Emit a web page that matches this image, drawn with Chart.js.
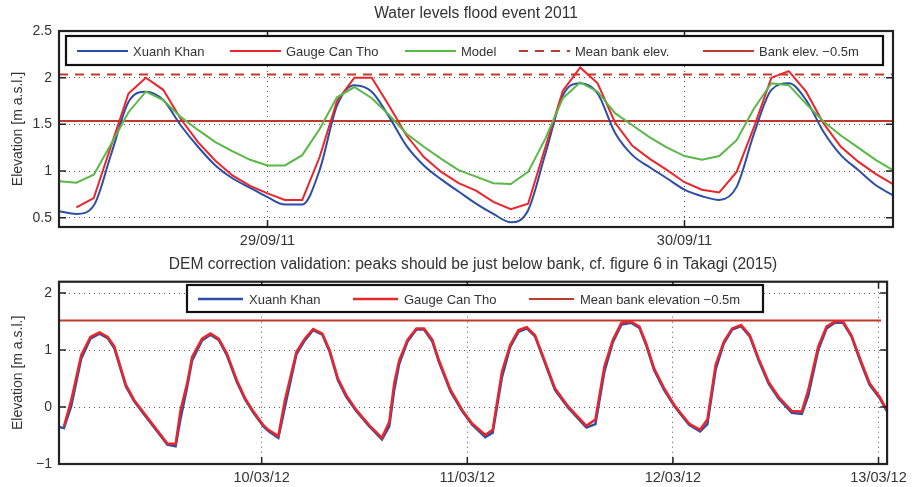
<!DOCTYPE html>
<html>
<head>
<meta charset="utf-8">
<script src="https://cdn.jsdelivr.net/npm/chart.js@4.4.1/dist/chart.umd.min.js"></script>
<style>
  html, body { margin: 0; padding: 0; background: #fff; }
  #wrap { position: relative; width: 912px; height: 487px; }
  #wrap canvas { position: absolute; left: 0; }
  #floodChart { top: 0; }
  #demChart { top: 250px; }
</style>
</head>
<body>
<div id="wrap">
  <canvas id="floodChart" width="912" height="250"></canvas>
  <canvas id="demChart" width="912" height="237"></canvas>
</div>
<script>
/* ── Flood event 2011 (hours since 28/09/11 12:00) ── */
const floodHours = [0,1,2,3,4,5,6,7,8,9,10,11,12,13,14,15,16,17,18,19,20,21,22,23,24,
  25,26,27,28,29,30,31,32,33,34,35,36,37,38,39,40,41,42,43,44,45,46,47,48];
const floodXuanh = [0.57,0.54,0.63,1.18,1.74,1.85,1.76,1.49,1.26,1.06,0.92,0.82,0.72,0.64,0.64,
  1.01,1.70,1.92,1.85,1.58,1.27,1.06,0.91,0.78,0.65,0.54,0.45,0.58,1.19,1.81,1.94,1.83,1.41,
  1.17,1.04,0.92,0.80,0.73,0.69,0.83,1.40,1.87,1.94,1.76,1.42,1.17,1.01,0.85,0.74];
const gaugeHours = [1,2,3,4,5,6,7,8,9,10,11,12,13,14,15,16,17,18,19,20,21,22,23,24,
  25,26,27,28,29,30,31,32,33,34,35,36,37,38,39,40,41,42,43,44,45,46,47,48];
const floodGauge = [0.61,0.71,1.27,1.83,2.00,1.87,1.56,1.31,1.11,0.95,0.84,0.76,0.69,0.69,
  1.15,1.75,2.00,2.00,1.70,1.38,1.15,0.99,0.87,0.79,0.67,0.59,0.65,1.26,1.86,2.11,1.94,1.52,
  1.27,1.13,1.01,0.88,0.80,0.77,0.99,1.47,2.00,2.07,1.85,1.51,1.26,1.10,0.97,0.86];
const floodModel = [0.89,0.875,0.96,1.29,1.63,1.85,1.76,1.58,1.44,1.31,1.21,1.12,1.06,1.06,1.17,
  1.45,1.79,1.90,1.78,1.60,1.40,1.26,1.13,1.01,0.94,0.87,0.86,0.99,1.35,1.78,1.95,1.85,1.62,
  1.49,1.36,1.25,1.16,1.12,1.16,1.33,1.67,1.94,1.92,1.72,1.53,1.38,1.25,1.12,1.01];
const meanBankElev = 2.035;
const bankOffset = 0.5;
const floodRange = [0, 48];
const floodTickHours = [12, 36];
const floodTickLabels = ['29/09/11', '30/09/11'];
const floodYTicks = [0.5, 1, 1.5, 2, 2.5];
const floodYLabels = ['0.5', '1', '1.5', '2', '2.5'];

/* ── DEM validation March 2012 (hours since 09/03/12 00:00) ── */
const valHours = [0.34,0.92,1.77,2.93,4.01,5.06,6.02,6.80,8.15,9.12,10.28,12.99,13.95,14.53,15.30,
  15.88,17.04,18.01,18.98,19.94,21.10,22.07,23.04,24.2,24.78,25.94,26.71,28.06,29.03,30.0,31.08,
  31.93,32.9,33.87,35.03,36.57,38.04,38.89,39.47,40.05,41.02,42.06,42.95,43.92,44.69,46.05,47.4,
  48.56,50.1,50.96,52.04,53.0,53.97,54.94,55.9,56.87,58.23,59.77,61.9,62.95,64.0,64.99,66.0,67.1,
  68.09,68.87,69.8,70.97,72.14,72.92,73.89,75.17,76.02,76.99,77.95,78.92,79.96,80.97,82.01,83.17,
  84.33,85.88,87.04,87.8,88.96,89.93,90.89,91.86,92.83,93.99,94.96,96.12,96.97];
const valXuanh = [-0.35,-0.37,0.02,0.85,1.20,1.29,1.21,1.03,0.36,0.10,-0.13,-0.66,-0.69,-0.20,0.35,
  0.82,1.17,1.27,1.18,0.91,0.44,0.13,-0.10,-0.34,-0.42,-0.54,0.00,0.93,1.17,1.35,1.27,
  0.97,0.47,0.18,-0.07,-0.34,-0.57,-0.34,0.30,0.76,1.15,1.36,1.36,1.15,0.79,0.27,-0.07,
  -0.31,-0.53,-0.45,0.52,1.05,1.32,1.38,1.24,0.85,0.30,-0.01,-0.36,-0.30,0.62,1.14,1.45,1.48,
  1.39,1.09,0.65,0.30,0.02,-0.13,-0.31,-0.43,-0.30,0.66,1.12,1.36,1.42,1.24,0.82,0.41,
  0.15,-0.10,-0.12,0.20,1.00,1.38,1.48,1.48,1.24,0.76,0.39,0.16,-0.07];
const valGauge = [null,-0.34,0.12,0.91,1.23,1.31,1.23,1.06,0.39,0.12,-0.11,-0.64,-0.65,-0.05,0.42,
  0.88,1.20,1.29,1.20,0.94,0.47,0.15,-0.08,-0.32,-0.40,-0.51,0.12,0.97,1.20,1.37,1.29,
  1.00,0.50,0.21,-0.05,-0.32,-0.54,-0.26,0.42,0.82,1.18,1.38,1.38,1.18,0.82,0.30,-0.05,
  -0.29,-0.49,-0.40,0.62,1.09,1.35,1.40,1.26,0.88,0.33,0.01,-0.33,-0.22,0.71,1.18,1.48,1.50,
  1.41,1.12,0.68,0.33,0.04,-0.11,-0.29,-0.40,-0.22,0.74,1.15,1.38,1.44,1.26,0.85,0.44,
  0.18,-0.07,-0.08,0.30,1.06,1.41,1.50,1.50,1.26,0.79,0.42,0.18,-0.05];
const valBankLevel = 1.52;
const valBankHours = [0.34, 96.3];
const valRange = [0.34, 97.0];
const valTickHours = [24, 48, 72, 96];
const valTickLabels = ['10/03/12', '11/03/12', '12/03/12', '13/03/12'];
const valYTicks = [-1, 0, 1, 2];
const valYLabels = ['\u22121', '0', '1', '2'];

const FONT = "'Liberation Sans', Arial, Helvetica, sans-serif";
const INK = '#333';
const BLUE = '#2d4ea6', RED = '#e8262b', GREEN = '#5ab847', BANK = '#bd3b2c';

function pts(xs, ys){ return xs.map((x, i) => ({ x, y: ys[i] })); }

/* ── matlab-like axes box with inward ticks ── */
const axesBox = {
  id: 'axesBox',
  afterDatasetsDraw(chart){
    const { ctx, chartArea: a, scales: { x, y } } = chart;
    ctx.save();
    ctx.strokeStyle = '#222';
    ctx.lineWidth = 1.5;
    ctx.beginPath();
    y.ticks.forEach(t => {
      const py = y.getPixelForValue(t.value);
      ctx.moveTo(a.left, py);  ctx.lineTo(a.left + 7, py);
      ctx.moveTo(a.right, py); ctx.lineTo(a.right - 7, py);
    });
    x.ticks.forEach(t => {
      const px = x.getPixelForValue(t.value);
      ctx.moveTo(px, a.bottom); ctx.lineTo(px, a.bottom - 7);
      ctx.moveTo(px, a.top);    ctx.lineTo(px, a.top + 7);
    });
    ctx.stroke();
    ctx.lineWidth = 2.2;
    ctx.strokeRect(a.left, a.top, a.right - a.left, a.bottom - a.top);
    ctx.restore();
  }
};

/* ── boxed legend sitting inside the axes ── */
const boxLegend = {
  id: 'boxLegend',
  afterDraw(chart, args, o){
    const { ctx } = chart;
    ctx.save();
    ctx.fillStyle = '#fff';
    ctx.fillRect(o.x, o.y, o.w, o.h);
    ctx.lineWidth = 2.2;
    ctx.strokeStyle = '#111';
    ctx.strokeRect(o.x, o.y, o.w, o.h);
    const cy = o.y + o.h / 2 + 0.5;
    ctx.font = `${o.size}px ${FONT}`;
    ctx.textBaseline = 'middle';
    chart.data.datasets.forEach((ds, i) => {
      const lx = o.itemX[i];
      ctx.beginPath();
      ctx.strokeStyle = ds.borderColor;
      ctx.lineWidth = ds.borderWidth;
      ctx.setLineDash(ds.borderDash || []);
      ctx.moveTo(lx, cy);
      ctx.lineTo(lx + o.lineLen, cy);
      ctx.stroke();
      ctx.setLineDash([]);
      ctx.fillStyle = INK;
      ctx.fillText(ds.label, lx + o.textOff, cy + 1);
    });
    ctx.restore();
  }
};

function makeScales(range, tickHours, tickLabels, yRange, yTicks, yLabels, xHeight){
  return {
    x: {
      type: 'linear', min: range[0], max: range[1],
      afterBuildTicks: s => { s.ticks = tickHours.map(v => ({ value: v })); },
      afterFit: s => { s.height = xHeight; },
      ticks: { color: INK, padding: 5, font: { size: 14.5, family: FONT },
               callback: (v, i) => tickLabels[i], maxRotation: 0, autoSkip: false },
      grid: { color: '#555', lineWidth: 1, drawTicks: false },
      border: { display: false, dash: [1, 4] }
    },
    y: {
      min: yRange[0], max: yRange[1],
      afterBuildTicks: s => { s.ticks = yTicks.map(v => ({ value: v })); },
      afterFit: s => { s.width = 59; },
      ticks: { color: INK, padding: 7, font: { size: 14, family: FONT },
               callback: (v, i) => yLabels[i], autoSkip: false },
      grid: { color: '#555', lineWidth: 1, drawTicks: false },
      border: { display: false, dash: [1, 4] },
      title: { display: true, text: 'Elevation [m a.s.l.]', color: INK,
               font: { size: 14, family: FONT }, padding: { top: 10, bottom: 0 } }
    }
  };
}

const lineDefaults = { pointRadius: 0, tension: 0, fill: false, spanGaps: false };

new Chart(document.getElementById('floodChart'), {
  type: 'line',
  data: {
    datasets: [
      { ...lineDefaults, label: 'Xuanh Khan', data: pts(floodHours, floodXuanh), borderColor: BLUE, borderWidth: 2,
        cubicInterpolationMode: 'monotone', order: 3 },
      { ...lineDefaults, label: 'Gauge Can Tho', data: pts(gaugeHours, floodGauge), borderColor: RED, borderWidth: 2, order: 2 },
      { ...lineDefaults, label: 'Model', data: pts(floodHours, floodModel), borderColor: GREEN, borderWidth: 2, order: 1 },
      { ...lineDefaults, label: 'Mean bank elev.', data: pts(floodRange, [meanBankElev, meanBankElev]),
        borderColor: BANK, borderWidth: 2, borderDash: [9, 7], order: 4 },
      { ...lineDefaults, label: 'Bank elev. \u22120.5m', data: pts(floodRange, [meanBankElev - bankOffset, meanBankElev - bankOffset]),
        borderColor: BANK, borderWidth: 2, order: 5 }
    ]
  },
  options: {
    responsive: false, animation: false, events: [],
    layout: { padding: { right: 19, left: 0, top: 0, bottom: 0 } },
    scales: makeScales(floodRange, floodTickHours, floodTickLabels, [0.4, 2.5], floodYTicks, floodYLabels, 23),
    plugins: {
      legend: { display: false },
      tooltip: { enabled: false },
      title: { display: true, fullSize: false, text: 'Water levels flood event 2011', color: INK,
               font: { size: 15.6, family: FONT, weight: 'normal' }, padding: { top: 4, bottom: 8.3 } },
      boxLegend: { x: 66, y: 36, w: 817, h: 29, size: 13, lineLen: 51, textOff: 56,
                   itemX: [77, 230, 405, 519, 703] }
    }
  },
  plugins: [axesBox, boxLegend]
});

new Chart(document.getElementById('demChart'), {
  type: 'line',
  data: {
    datasets: [
      { ...lineDefaults, label: 'Xuanh Khan', data: pts(valHours, valXuanh), borderColor: BLUE, borderWidth: 2.5, order: 2 },
      { ...lineDefaults, label: 'Gauge Can Tho', data: pts(valHours, valGauge), borderColor: RED, borderWidth: 2.5, order: 1 },
      { ...lineDefaults, label: 'Mean bank elevation \u22120.5m', data: pts(valBankHours, [valBankLevel, valBankLevel]),
        borderColor: BANK, borderWidth: 2, order: 3 }
    ]
  },
  options: {
    responsive: false, animation: false, events: [],
    layout: { padding: { right: 19, left: 0, top: 0, bottom: 0 } },
    scales: makeScales(valRange, valTickHours, valTickLabels, [-1, 2.2], valYTicks, valYLabels, 23),
    plugins: {
      legend: { display: false },
      tooltip: { enabled: false },
      title: { display: true, fullSize: false,
               text: 'DEM correction validation: peaks should be just below bank, cf. figure 6 in Takagi (2015)',
               color: INK, font: { size: 15.6, family: FONT, weight: 'normal' }, padding: { top: 5.6, bottom: 7.4 } },
      boxLegend: { x: 187, y: 35, w: 576, h: 27, size: 13, lineLen: 45, textOff: 51,
                   itemX: [198, 353, 529] }
    }
  },
  plugins: [axesBox, boxLegend]
});
</script>
</body>
</html>
